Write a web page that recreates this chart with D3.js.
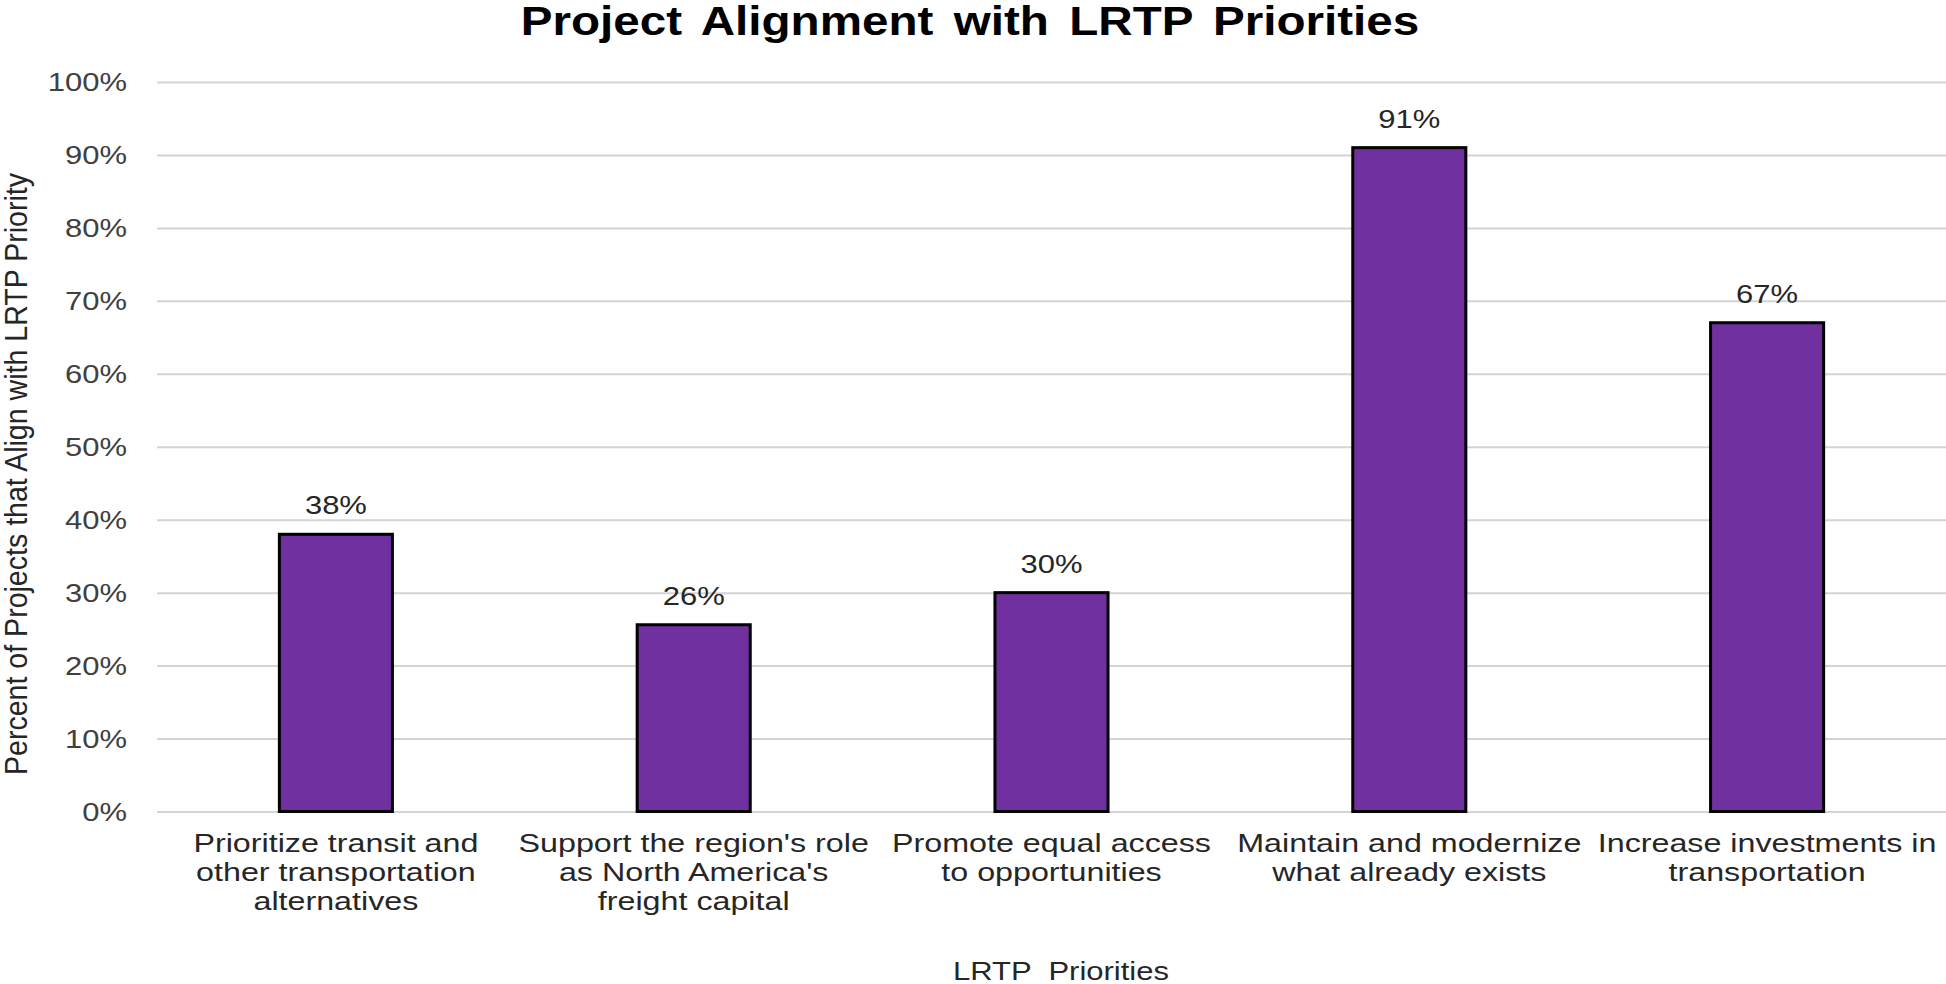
<!DOCTYPE html>
<html>
<head>
<meta charset="utf-8">
<script src="https://cdn.jsdelivr.net/npm/d3@7"></script>
<style>
  html, body { margin: 0; padding: 0; background: #ffffff; }
  svg { display: block; font-family: "Liberation Sans", Arial, sans-serif; }
</style>
</head>
<body>
<svg id="chart" width="1946" height="984"></svg>
<script>
// ---- data ----
const categories = [
  "Prioritize transit and|other transportation|alternatives",
  "Support the region's role|as North America's|freight capital",
  "Promote equal access|to opportunities",
  "Maintain and modernize|what already exists",
  "Increase investments in|transportation"
];
const values = [38, 25.6, 30, 91, 67];
const yTicks = [0, 10, 20, 30, 40, 50, 60, 70, 80, 90, 100];
const titleText = "Project Alignment with LRTP Priorities";
const xTitle = "LRTP  Priorities";
const yTitle = "Percent of Projects that Align with LRTP Priority";

// ---- layout ----
const W = 1946, H = 984;
const plot = { left: 157, right: 1946, top: 82, bottom: 811.5 };
const SX = 1.24;           // horizontal stretch of text in reference
const SXcat = 1.29;
const fontSize = 25;

const svg = d3.select("#chart");

const x = d3.scaleBand().domain(categories).range([plot.left, plot.right]).padding(0);
const y = d3.scaleLinear().domain([0, 100]).range([plot.bottom, plot.top]);
const barW = x.bandwidth() * 0.316;

// gridlines + tick labels
const yAxis = d3.axisLeft(y)
  .tickValues(yTicks)
  .tickSize(-(plot.right - plot.left))
  .tickPadding(0)
  .tickFormat(d => d + "%");

const gy = svg.append("g")
  .attr("transform", `translate(${plot.left},0)`)
  .call(yAxis);
gy.select(".domain").remove();
gy.selectAll(".tick line").attr("stroke", "#d4d4d4").attr("stroke-width", 2);
gy.selectAll(".tick text")
  .attr("x", -30 / SX)
  .attr("dy", "0.35em")
  .attr("transform", `scale(${SX},1)`)
  .attr("font-size", fontSize)
  .attr("font-family", "Liberation Sans, Arial, sans-serif")
  .attr("fill", "#404040")
  .attr("text-anchor", "end");

// bars
svg.append("g").selectAll("rect")
  .data(values)
  .join("rect")
  .attr("x", (d, i) => x(categories[i]) + x.bandwidth() / 2 - barW / 2)
  .attr("y", d => y(d))
  .attr("width", barW)
  .attr("height", d => y(0) - y(d))
  .attr("fill", "#7030A0")
  .attr("stroke", "#000000")
  .attr("stroke-width", 3);

// data labels
svg.append("g").selectAll("text")
  .data(values)
  .join("text")
  .attr("transform", (d, i) => `translate(${x(categories[i]) + x.bandwidth() / 2},${y(d) - 20}) scale(${SX},1)`)
  .attr("text-anchor", "middle")
  .attr("font-size", fontSize)
  .attr("fill", "#262626")
  .text(d => Math.round(d) + "%");

// category labels
const gx = svg.append("g");
categories.forEach((c, i) => {
  const cx = x(c) + x.bandwidth() / 2;
  c.split("|").forEach((line, j) => {
    gx.append("text")
      .attr("transform", `translate(${cx},${852 + j * 29}) scale(${SXcat},1)`)
      .attr("text-anchor", "middle")
      .attr("font-size", fontSize)
      .attr("fill", "#262626")
      .text(line);
  });
});

// title
svg.append("text")
  .attr("transform", `translate(970,35) scale(1.19,1)`)
  .attr("text-anchor", "middle")
  .attr("font-size", 40)
  .attr("font-weight", "bold")
  .attr("fill", "#000000")
  .style("word-spacing", "6px")
  .text(titleText);

// x title
svg.append("text")
  .attr("transform", `translate(1061,980) scale(${SX},1)`)
  .attr("text-anchor", "middle")
  .attr("font-size", fontSize)
  .attr("fill", "#262626")
  .style("white-space", "pre")
  .text(xTitle);

// y title
svg.append("text")
  .attr("transform", `translate(27,474) scale(${SX},1) rotate(-90)`)
  .attr("text-anchor", "middle")
  .attr("font-size", fontSize)
  .attr("fill", "#262626")
  .attr("textLength", 602)
  .attr("lengthAdjust", "spacingAndGlyphs")
  .text(yTitle);
</script>
</body>
</html>
